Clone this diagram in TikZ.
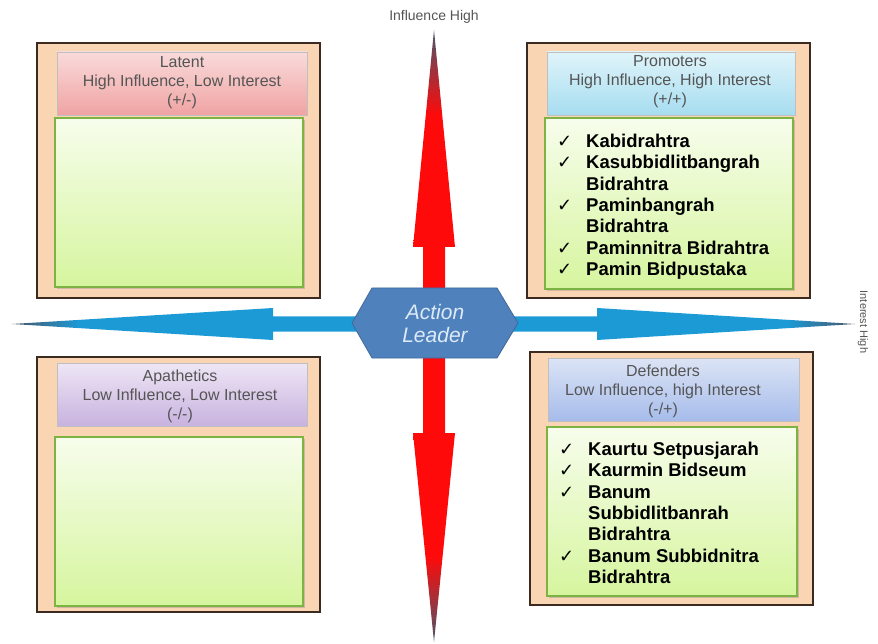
\documentclass[tikz,border=0pt]{standalone}
\usepackage{fontspec}
\setmainfont{Liberation Sans}
\newfontfamily\symfont{DejaVu Sans}
\usetikzlibrary{shadows}
\definecolor{peach}{HTML}{FAD5B3}
\definecolor{boxline}{HTML}{3B2A20}
\definecolor{greenline}{HTML}{7CB342}
\definecolor{greentop}{HTML}{F7FDEC}
\definecolor{greenbot}{HTML}{D6F59E}
\definecolor{headtext}{HTML}{555555}
\definecolor{axisblue}{HTML}{1C9AD6}
\definecolor{axisred}{HTML}{FF0A0A}
\definecolor{tipgray}{HTML}{4A5568}
\definecolor{hexfill}{HTML}{4F81BD}
\definecolor{hexline}{HTML}{41699A}
\definecolor{hextext}{HTML}{DDEAF7}
\definecolor{pinktop}{HTML}{F9DADA}
\definecolor{pinkbot}{HTML}{F0A3A3}
\definecolor{cyantop}{HTML}{E0F4FA}
\definecolor{cyanbot}{HTML}{A6DDF0}
\definecolor{lilactop}{HTML}{EEE6F5}
\definecolor{lilacbot}{HTML}{C8B2DF}
\definecolor{bluetop}{HTML}{DCE4F5}
\definecolor{bluebot}{HTML}{A6BCEB}
\pgfdeclareverticalshading{redaxis}{100bp}{color(0bp)=(tipgray); color(25bp)=(tipgray); color(32bp)=(axisred); color(68bp)=(axisred); color(75bp)=(tipgray); color(100bp)=(tipgray)}
\pgfdeclarehorizontalshading{blueaxis}{100bp}{color(0bp)=(tipgray); color(25bp)=(tipgray); color(29bp)=(axisblue); color(71bp)=(axisblue); color(75bp)=(tipgray); color(100bp)=(tipgray)}
\newcommand{\chk}{\makebox[29pt][l]{\symfont\mdseries\fontsize{18}{18}\selectfont ✓}}
\newcommand{\nochk}{\hspace*{29pt}}

\begin{document}
\begin{tikzpicture}[x=1pt,y=1pt]
	\tikzstyle{every node}+=[inner sep=0pt]
	\tikzstyle{outerbox}=[draw=boxline, line width=1.3pt, fill=peach]
	\tikzstyle{headbox}=[draw=black!25, line width=0.5pt]
	\tikzstyle{greenbox}=[draw=greenline, line width=1.2pt, top color=greentop, bottom color=greenbot, drop shadow={shadow xshift=1.5pt, shadow yshift=-2pt, opacity=0.35}]
	\tikzstyle{headtxt}=[align=center, text=headtext, font=\fontsize{16}{19}\selectfont]
	\tikzstyle{items}=[anchor=north west, align=left, font=\fontsize{18.5}{21.3}\selectfont\bfseries]
	\useasboundingbox (0,0) rectangle (878,-644);
	\fill [white] (0,0) rectangle (878,-644);
	\shade [shading=blueaxis] (12,-324) -- (273,-308) -- (273,-316.5) -- (597,-316.5) -- (597,-308) -- (855,-324) -- (597,-340) -- (597,-331.5) -- (273,-331.5) -- (273,-340) -- cycle;
	\shade [shading=redaxis] (434,-30) -- (455,-247) -- (445,-247) -- (445,-433) -- (455,-433) -- (434,-642) -- (413,-433) -- (423,-433) -- (423,-247) -- (413,-247) -- cycle;
	\draw [fill=hexfill, draw=hexline, line width=0.8pt] (352,-323) -- (372,-288) -- (497,-288) -- (518,-323) -- (497,-358) -- (372,-358) -- cycle;
	\node (leader) at (435,-323) [align=center, text=hextext, font=\fontsize{21}{23}\selectfont\itshape] {Action\\Leader};
	\node (inflhigh) at (434,-17) [text=headtext, font=\fontsize{14}{16}\selectfont] {Influence High};
	\node (inthigh) at (863,-322) [rotate=-90, text=headtext, font=\fontsize{11}{13}\selectfont] {Interest High};
	\draw [outerbox] (37,-43) rectangle (320,-298);
	\shade [headbox, top color=pinktop, bottom color=pinkbot] (57,-52) rectangle (307,-115);
	\draw [greenbox] (55,-118) rectangle (303,-287);
	\node (latent) at (182,-83) [headtxt] {Latent\\High Influence, Low Interest\\(+/-)};
	\draw [outerbox] (527,-43) rectangle (810,-298);
	\shade [headbox, top color=cyantop, bottom color=cyanbot] (547,-52) rectangle (795,-115);
	\draw [greenbox] (545,-118) rectangle (793,-289);
	\node (promoters) at (670,-82) [headtxt] {Promoters\\High Influence, High Interest\\(+/+)};
	\node (promlist) at (557,-134) [items] {\chk Kabidrahtra\\ \chk Kasubbidlitbangrah\\ \nochk Bidrahtra\\ \chk Paminbangrah\\ \nochk Bidrahtra\\ \chk Paminnitra Bidrahtra\\ \chk Pamin Bidpustaka};
	\draw [outerbox] (37,-357) rectangle (320,-612);
	\shade [headbox, top color=lilactop, bottom color=lilacbot] (57,-363) rectangle (307,-426);
	\draw [greenbox] (55,-437) rectangle (303,-606);
	\node (apathetics) at (180,-396) [headtxt] {Apathetics\\Low Influence, Low Interest\\(-/-)};
	\draw [outerbox] (530,-352) rectangle (813,-605);
	\shade [headbox, top color=bluetop, bottom color=bluebot] (548,-358) rectangle (799,-421);
	\draw [greenbox] (547,-427) rectangle (797,-596);
	\node (defenders) at (663,-391) [headtxt] {Defenders\\Low Influence, high Interest\\(-/+)};
	\node (deflist) at (559,-442) [items] {\chk Kaurtu Setpusjarah\\ \chk Kaurmin Bidseum\\ \chk Banum\\ \nochk Subbidlitbanrah\\ \nochk Bidrahtra\\ \chk Banum Subbidnitra\\ \nochk Bidrahtra};
\end{tikzpicture}
\end{document}
